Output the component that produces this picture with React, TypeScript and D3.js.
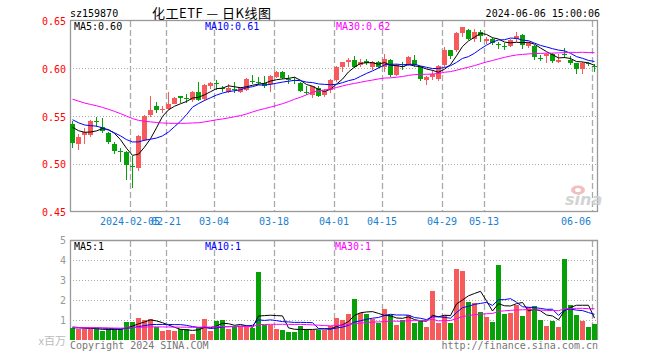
import React from "react";
import * as d3 from "d3";

const dates = [
  "2024-01-22","2024-01-23","2024-01-24","2024-01-25","2024-01-26","2024-01-29","2024-01-30","2024-01-31",
  "2024-02-01","2024-02-02","2024-02-05","2024-02-06","2024-02-07","2024-02-08","2024-02-19","2024-02-20",
  "2024-02-21","2024-02-22","2024-02-23","2024-02-26","2024-02-27","2024-02-28","2024-02-29","2024-03-01",
  "2024-03-04","2024-03-05","2024-03-06","2024-03-07","2024-03-08","2024-03-11","2024-03-12","2024-03-13",
  "2024-03-14","2024-03-15","2024-03-18","2024-03-19","2024-03-20","2024-03-21","2024-03-22","2024-03-25",
  "2024-03-26","2024-03-27","2024-03-28","2024-03-29","2024-04-01","2024-04-02","2024-04-03","2024-04-08",
  "2024-04-09","2024-04-10","2024-04-11","2024-04-12","2024-04-15","2024-04-16","2024-04-17","2024-04-18",
  "2024-04-19","2024-04-22","2024-04-23","2024-04-24","2024-04-25","2024-04-26","2024-04-29","2024-04-30",
  "2024-05-06","2024-05-07","2024-05-08","2024-05-09","2024-05-10","2024-05-13","2024-05-14","2024-05-15",
  "2024-05-16","2024-05-17","2024-05-20","2024-05-21","2024-05-22","2024-05-23","2024-05-24","2024-05-27",
  "2024-05-28","2024-05-29","2024-05-30","2024-05-31","2024-06-03","2024-06-04","2024-06-05","2024-06-06",
];

const opens = [
  0.542,0.521,0.530,0.530,0.545,0.539,0.532,0.521,0.513,0.512,0.498,0.496,0.525,0.551,0.560,0.556,
  0.557,0.563,0.571,0.569,0.567,0.575,0.568,0.581,0.585,0.579,0.575,0.578,0.575,0.577,0.587,0.586,
  0.585,0.584,0.591,0.596,0.589,0.588,0.585,0.575,0.572,0.579,0.572,0.577,0.588,0.601,0.607,0.609,
  0.603,0.608,0.601,0.607,0.601,0.609,0.593,0.602,0.603,0.609,0.601,0.588,0.591,0.589,0.603,0.619,
  0.619,0.637,0.640,0.631,0.638,0.629,0.631,0.625,0.623,0.623,0.631,0.635,0.623,0.623,0.611,0.613,
  0.615,0.607,0.615,0.609,0.605,0.599,0.605,0.602,
];
const highs = [
  0.545,0.531,0.537,0.546,0.549,0.548,0.533,0.523,0.517,0.513,0.508,0.530,0.551,0.571,0.565,0.560,
  0.575,0.570,0.571,0.573,0.576,0.586,0.583,0.586,0.588,0.581,0.583,0.586,0.580,0.590,0.593,0.591,
  0.592,0.593,0.597,0.597,0.593,0.591,0.586,0.581,0.581,0.581,0.578,0.589,0.602,0.607,0.611,0.613,
  0.610,0.610,0.608,0.608,0.615,0.610,0.604,0.607,0.613,0.614,0.602,0.592,0.598,0.603,0.622,0.619,
  0.638,0.643,0.641,0.641,0.640,0.633,0.632,0.627,0.626,0.631,0.638,0.636,0.627,0.624,0.614,0.616,
  0.616,0.615,0.621,0.613,0.605,0.607,0.607,0.604,
];
const lows = [
  0.516,0.514,0.521,0.528,0.538,0.532,0.521,0.510,0.502,0.483,0.475,0.492,0.524,0.549,0.553,0.553,
  0.556,0.563,0.564,0.564,0.565,0.566,0.566,0.578,0.577,0.575,0.574,0.574,0.574,0.576,0.584,0.582,
  0.579,0.575,0.590,0.589,0.583,0.584,0.575,0.572,0.569,0.570,0.570,0.574,0.586,0.596,0.601,0.600,
  0.601,0.603,0.598,0.600,0.596,0.591,0.592,0.598,0.602,0.601,0.587,0.582,0.588,0.587,0.601,0.610,
  0.617,0.633,0.630,0.627,0.627,0.625,0.624,0.620,0.619,0.622,0.628,0.620,0.621,0.609,0.608,0.605,
  0.606,0.605,0.611,0.603,0.594,0.594,0.602,0.596,
];
const closes = [
  0.522,0.528,0.533,0.545,0.544,0.534,0.523,0.513,0.512,0.499,0.497,0.529,0.550,0.556,0.556,0.557,
  0.563,0.569,0.569,0.568,0.575,0.567,0.582,0.585,0.584,0.578,0.579,0.577,0.580,0.589,0.586,0.585,
  0.581,0.592,0.596,0.590,0.588,0.587,0.576,0.574,0.581,0.571,0.576,0.588,0.601,0.607,0.609,0.601,
  0.607,0.605,0.607,0.601,0.610,0.593,0.603,0.601,0.612,0.603,0.589,0.591,0.594,0.602,0.619,0.613,
  0.637,0.643,0.631,0.638,0.634,0.631,0.626,0.624,0.622,0.630,0.634,0.624,0.626,0.612,0.610,0.615,
  0.608,0.609,0.614,0.605,0.599,0.606,0.604,0.601,
];
const volumes = [
  0.60,0.55,0.55,0.55,0.60,0.43,0.55,0.55,0.55,0.92,0.92,1.12,1.02,1.07,0.67,0.47,
  0.52,0.47,0.55,0.55,0.32,0.67,1.07,0.47,0.97,1.02,0.57,0.67,0.67,0.67,0.60,3.42,
  0.77,0.77,0.57,0.52,0.42,0.42,0.72,0.57,0.52,0.52,0.52,0.68,1.13,0.98,1.32,2.07,
  1.35,1.32,1.07,0.87,1.57,1.25,0.77,0.98,1.25,0.87,0.95,0.67,2.47,0.87,1.27,0.87,
  3.57,3.47,1.93,1.85,1.42,1.17,0.92,3.77,1.32,1.37,1.75,1.22,1.65,1.72,0.98,0.72,
  0.97,0.67,4.05,1.77,1.27,0.97,0.67,0.82,
];
// sessions before the window, only used for the moving averages
const priorCloses = [
  0.590,0.593,0.588,0.585,0.587,0.582,0.579,0.582,0.577,0.575,0.584,0.579,0.575,0.577,0.572,
  0.570,0.574,0.568,0.565,0.566,0.560,0.556,0.552,0.549,0.553,0.546,0.541,0.544,0.538,
];
const priorVolumes = [
  0.72,0.65,0.58,0.70,0.62,0.55,0.68,0.74,0.60,0.57,0.66,0.63,0.59,0.71,0.64,
  0.56,0.61,0.69,0.58,0.62,0.55,0.60,0.57,0.52,0.58,0.66,0.70,0.62,0.68,
];

const axisDates = ["2024-02-05","2024-02-21","2024-03-04","2024-03-18","2024-04-01","2024-04-15","2024-04-29","2024-05-13","2024-06-06"];
const axisLabels = ["2024-02-05","02-21","03-04","03-18","04-01","04-15","04-29","05-13","06-06"];
const priceTicks = [0.65, 0.6, 0.55, 0.5, 0.45];
const volTicks = [5, 4, 3, 2, 1];
const maPeriods = [5, 10, 30];
const maColors = ["#000000", "#0000ff", "#ff00ff"];
const priceMaLabels = ["MA5:0.60", "MA10:0.61", "MA30:0.62"];
const volMaLabels = ["MA5:1", "MA10:1", "MA30:1"];

const RED = "#f65a5a";
const GREEN = "#08a008";
const MONO = "'DejaVu Sans Mono', monospace";

function movingAvg(prior: number[], vals: number[], n: number): number[] {
  const all = prior.concat(vals);
  const off = prior.length;
  return vals.map((_, i) => d3.mean(all.slice(off + i - n + 1, off + i + 1)) as number);
}

export default function App() {
  const N = dates.length;
  const x = d3.scaleLinear().domain([0, N]).range([70, 598]);
  const yP = d3.scaleLinear().domain([0.45, 0.65]).range([211.5, 20.5]);
  const yV = d3.scaleLinear().domain([0, 5]).range([340, 240.5]);

  const priceMAs = maPeriods.map((n) => movingAvg(priorCloses, closes, n));
  const volMAs = maPeriods.map((n) => movingAvg(priorVolumes, volumes, n));
  const lineP = d3.line<number>().x((_, i) => x(i) + 2.5).y((d) => yP(d));
  const lineV = d3.line<number>().x((_, i) => x(i) + 2.5).y((d) => yV(d));

  const axisIdx = axisDates.map((d) => dates.indexOf(d));

  return (
    <svg width={660} height={360} style={{ display: "block", position: "absolute", left: 0, top: 0, background: "#fff" }}>
      {/* header */}
      <text x={70} y={16.5} fontFamily={MONO} fontSize={10} fill="#000">sz159870</text>
      <text x={152} y={17.5} fontFamily="'Noto Sans CJK SC', sans-serif" fontSize={13} fill="#000" textLength={119} lengthAdjust="spacing">化工ETF — 日K线图</text>
      <text x={600} y={16.5} fontFamily={MONO} fontSize={10} fill="#000" textAnchor="end">2024-06-06 15:00:06</text>

      {/* price grid */}
      {priceTicks.slice(1, -1).map((t) => (
        <line key={"pg" + t} x1={70} x2={598} y1={Math.round(yP(t)) + 0.5} y2={Math.round(yP(t)) + 0.5} stroke="#aaa" strokeDasharray="1,2" />
      ))}
      {volTicks.slice(1).map((t) => (
        <line key={"vg" + t} x1={70} x2={598} y1={Math.round(yV(t)) + 0.5} y2={Math.round(yV(t)) + 0.5} stroke="#aaa" strokeDasharray="1,2" />
      ))}
      {axisIdx.map((k, j) => (
        <g key={"vd" + j}>
          <line x1={x(k) + 0.5} x2={x(k) + 0.5} y1={21} y2={211} stroke="#aaa" strokeWidth={1.3} strokeDasharray="6,3" />
          <line x1={x(k) + 0.5} x2={x(k) + 0.5} y1={241} y2={340} stroke="#aaa" strokeWidth={1.3} strokeDasharray="6,3" />
        </g>
      ))}

      {/* frames */}
      <rect x={70.5} y={20.5} width={527} height={191} fill="none" stroke="#999" strokeWidth={1.3} />
      <path d="M70.5,340 V240.5 H597.5 V340" fill="none" stroke="#999" strokeWidth={1.3} />

      {/* candles */}
      <g shapeRendering="crispEdges">
        {closes.map((c, i) => {
          const o = opens[i];
          const up = c > o;
          const col = up ? RED : GREEN;
          const top = yP(Math.max(o, c));
          const bot = yP(Math.min(o, c));
          return (
            <g key={"c" + i}>
              <line x1={x(i) + 2.5} x2={x(i) + 2.5} y1={yP(highs[i])} y2={yP(lows[i])} stroke={col} />
              <rect x={x(i)} y={top} width={5} height={Math.max(1, bot - top)} fill={col} />
            </g>
          );
        })}
      </g>

      {/* price MAs */}
      {priceMAs.map((m, j) => (
        <path key={"pm" + j} d={lineP(m) || ""} fill="none" stroke={maColors[j]} strokeWidth={1} />
      ))}

      {/* volume bars */}
      <g shapeRendering="crispEdges">
        {volumes.map((v, i) => (
          <rect key={"v" + i} x={x(i)} y={yV(v)} width={5} height={340 - yV(v)} fill={closes[i] > opens[i] ? RED : GREEN} />
        ))}
      </g>
      {volMAs.map((m, j) => (
        <path key={"vm" + j} d={lineV(m) || ""} fill="none" stroke={maColors[j]} strokeWidth={1} />
      ))}

      {/* watermark */}
      <g opacity={0.9}>
        <ellipse cx={578} cy={190} rx={7} ry={4.5} fill="#f2b8b8" />
        <ellipse cx={578} cy={190} rx={3} ry={2} fill="#fff" />
        <text x={565} y={205} fontFamily="'DejaVu Sans', sans-serif" fontSize={16} fontWeight="bold" fontStyle="italic" fill="#cfcfcf">sina</text>
      </g>

      {/* MA labels */}
      {priceMaLabels.map((t, j) => (
        <text key={"pl" + j} x={[74, 205, 336][j]} y={29.5} fontFamily={MONO} fontSize={10} fill={maColors[j]}>{t}</text>
      ))}
      {volMaLabels.map((t, j) => (
        <text key={"vl" + j} x={[74, 205, 335][j]} y={250} fontFamily={MONO} fontSize={10} fill={maColors[j]}>{t}</text>
      ))}

      {/* axis labels */}
      {priceTicks.map((t) => (
        <text key={"pt" + t} x={66} y={yP(t) + 4.5} fontFamily={MONO} fontSize={10} fill="#ff0000" textAnchor="end">{t.toFixed(2)}</text>
      ))}
      {volTicks.map((t) => (
        <text key={"vt" + t} x={66} y={yV(t) + 3.5} fontFamily={MONO} fontSize={10} fill="#999" textAnchor="end">{t}</text>
      ))}
      <text x={66} y={344.5} fontFamily="'Noto Sans CJK SC', sans-serif" fontSize={11} fill="#bbb" textAnchor="end">x百万</text>
      {axisIdx.map((k, j) => {
        const cx = x(k);
        const overflow = cx + 15 > 597;
        return (
          <text key={"xl" + j} x={overflow ? 591 : cx} y={225} fontFamily={MONO} fontSize={10} fill="#1a80d0" textAnchor={overflow ? "end" : "middle"}>{axisLabels[j]}</text>
        );
      })}

      {/* footer */}
      <text x={70} y={348.5} fontFamily={MONO} fontSize={10} fill="#777">Copyright 2024 SINA.COM</text>
      <text x={598} y={348.5} fontFamily={MONO} fontSize={10} fill="#777" textAnchor="end">http://finance.sina.com.cn</text>
    </svg>
  );
}
